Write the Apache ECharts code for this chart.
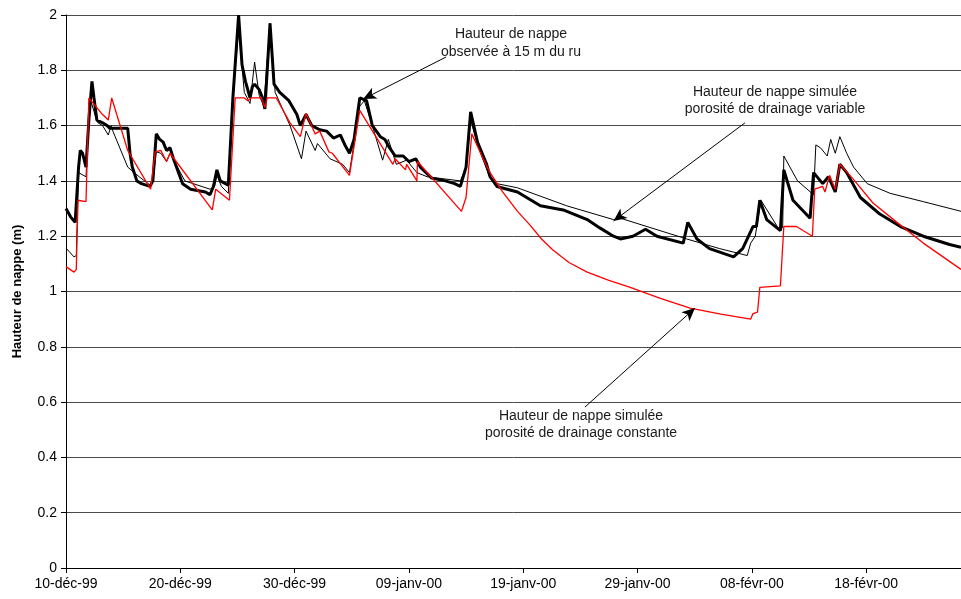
<!DOCTYPE html>
<html>
<head>
<meta charset="utf-8">
<script src="https://cdn.jsdelivr.net/npm/echarts@6/dist/echarts.min.js"></script>
<style>html,body{margin:0;padding:0;background:#fff}#c{width:961px;height:599px}</style>
</head>
<body>
<div id="c"></div>
<script>
// x = days since 10-déc-99
var xTickValues = [0, 10, 20, 30, 40, 50, 60, 70];
var xTickLabels = ['10-déc-99', '20-déc-99', '30-déc-99', '09-janv-00', '19-janv-00', '29-janv-00', '08-févr-00', '18-févr-00'];
var xMax = 78.3;

// Observed water table height (thick black)
var obsDays = [0,0.4,0.8,0.95,1.1,1.25,1.45,1.75,2.0,2.27,2.45,2.7,3.2,3.6,3.85,5.4,5.6,5.8,6.2,6.6,7.35,7.6,7.9,8.2,8.5,8.8,9.1,9.4,10.2,10.9,12.2,12.6,12.9,13.2,13.5,14.2,14.6,15.1,15.4,15.7,16.1,16.3,16.5,16.9,17.2,17.4,17.85,18.2,18.7,19.5,20.2,20.5,21.0,21.5,22.2,22.8,23.4,24.0,24.4,24.8,25.2,25.7,26.3,26.8,27.5,27.9,28.3,28.8,29.5,30.0,30.6,31.0,32.0,33.2,34.0,34.5,35.0,35.4,36.0,36.8,37.1,37.7,39.5,41.5,43.5,45.6,46.7,47.9,48.5,49.6,50.7,51.7,54.0,54.4,55.2,56.3,58.4,59.2,60.1,60.4,60.7,61.3,62.5,62.8,63.6,65.1,65.4,66.2,66.7,67.3,67.7,68.3,69.5,71.2,73.0,75.0,77.3,78.3];
var obsValues = [1.30,1.27,1.25,1.25,1.45,1.51,1.50,1.45,1.62,1.76,1.70,1.62,1.61,1.60,1.59,1.59,1.50,1.45,1.40,1.39,1.38,1.40,1.57,1.55,1.54,1.51,1.52,1.48,1.39,1.37,1.36,1.35,1.38,1.44,1.40,1.385,1.70,2.00,1.82,1.76,1.70,1.74,1.75,1.73,1.70,1.66,1.97,1.75,1.72,1.69,1.64,1.60,1.64,1.60,1.585,1.58,1.555,1.566,1.53,1.50,1.55,1.70,1.69,1.60,1.56,1.55,1.52,1.49,1.49,1.47,1.48,1.45,1.41,1.40,1.39,1.38,1.45,1.65,1.54,1.46,1.415,1.38,1.36,1.31,1.295,1.26,1.23,1.20,1.19,1.20,1.225,1.20,1.175,1.25,1.19,1.155,1.125,1.155,1.235,1.235,1.33,1.26,1.22,1.44,1.33,1.265,1.43,1.39,1.415,1.36,1.46,1.43,1.34,1.28,1.235,1.20,1.17,1.16];

// Simulated, variable drainage porosity (thin black)
var varDays = [0,0.7,0.9,1.1,1.75,2.1,2.6,2.8,3.2,3.7,3.95,4.1,5.4,6.4,7.35,7.6,7.9,8.3,8.8,9.1,10.4,12.6,13.0,13.2,13.6,14.2,14.6,15.1,15.6,16.1,16.5,16.9,17.3,17.85,18.3,19.6,20.6,21.0,21.8,22.0,23.1,24.2,24.8,25.7,26.1,26.8,27.7,28.2,28.9,29.8,30.7,31.6,34.5,35.0,35.4,36.0,37.0,37.7,39.5,43.8,47.9,48.5,54.3,57.2,59.6,59.9,60.3,60.8,62.3,62.7,62.8,64.0,65.4,65.6,66.0,66.6,66.9,67.3,67.7,68.3,68.9,70.1,72.1,75.0,78.3];
var varValues = [1.157,1.125,1.13,1.43,1.415,1.70,1.63,1.61,1.60,1.566,1.60,1.58,1.45,1.415,1.385,1.40,1.505,1.50,1.47,1.50,1.40,1.37,1.38,1.42,1.38,1.355,1.70,1.95,1.72,1.68,1.83,1.71,1.67,1.97,1.72,1.60,1.48,1.58,1.51,1.535,1.48,1.46,1.43,1.67,1.69,1.60,1.475,1.55,1.46,1.475,1.43,1.415,1.40,1.45,1.62,1.53,1.42,1.39,1.375,1.31,1.26,1.265,1.19,1.155,1.13,1.175,1.20,1.33,1.23,1.23,1.49,1.40,1.35,1.53,1.52,1.49,1.55,1.50,1.56,1.50,1.45,1.39,1.355,1.325,1.29];

// Simulated, constant drainage porosity (red)
var conDays = [0,0.7,0.9,1.05,1.75,2.0,3.2,3.7,4.0,5.4,7.4,7.8,8.3,8.8,9.1,12.8,13.1,14.3,14.8,15.6,15.9,16.2,17.1,17.4,17.6,18.4,19.6,20.5,21.0,21.8,22.2,23.0,23.3,24.8,25.7,28.6,28.8,29.7,29.8,30.7,30.75,34.6,35.0,35.5,36.5,37.1,38.2,39.5,40.6,41.6,42.6,44.0,45.6,47.5,49.3,52.0,54.6,57.3,59.9,60.1,60.5,60.7,62.5,62.8,63.9,65.3,65.5,66.2,66.4,66.8,67.3,67.7,68.8,70.6,72.7,75.0,78.3];
var conValues = [1.09,1.07,1.08,1.33,1.325,1.70,1.64,1.62,1.70,1.51,1.37,1.505,1.51,1.47,1.50,1.295,1.37,1.33,1.70,1.70,1.69,1.70,1.70,1.665,1.70,1.70,1.61,1.56,1.645,1.57,1.58,1.505,1.50,1.42,1.655,1.46,1.48,1.44,1.46,1.40,1.47,1.29,1.34,1.57,1.48,1.43,1.36,1.29,1.24,1.19,1.15,1.105,1.07,1.04,1.016,0.975,0.94,0.918,0.90,0.92,0.925,1.015,1.02,1.235,1.235,1.20,1.37,1.38,1.36,1.42,1.37,1.46,1.41,1.32,1.25,1.175,1.08];

// Annotation arrows (data space: [day, value] from -> to)
var arrowObs = [[33.25, 1.848], [26.0, 1.696]];
var arrowVar = [[59.4, 1.61], [47.9, 1.255]];
var arrowCon = [[45.4, 0.582], [55.03, 0.94]];

function zip(a, b) { return a.map(function (d, i) { return [d, b[i]]; }); }
function arrow(p) {
  return [{ coord: p[0], symbol: 'none' }, { coord: p[1], symbol: 'arrow' }];
}

var FONT = '"Liberation Sans", Arial, sans-serif';
var chart = echarts.init(document.getElementById('c'), null, { renderer: 'canvas' });
chart.setOption({
  animation: false,
  backgroundColor: '#fff',
  grid: { left: 66, right: 0, top: 15, bottom: 31, containLabel: false },
  xAxis: {
    type: 'value', min: 0, max: xMax, interval: 10,
    axisLine: { show: true, onZero: false, lineStyle: { color: '#000', width: 1 } },
    axisTick: { show: true, length: 5, lineStyle: { color: '#000' }, customValues: xTickValues },
    axisLabel: {
      customValues: xTickValues, color: '#000', fontFamily: FONT, fontSize: 14, margin: 9,
      formatter: function (v) { var i = xTickValues.indexOf(Math.round(v)); return i >= 0 ? xTickLabels[i] : ''; }
    },
    splitLine: { show: false }
  },
  yAxis: {
    type: 'value', min: 0, max: 2, interval: 0.2,
    name: 'Hauteur de nappe (m)', nameLocation: 'middle', nameGap: 42,
    nameTextStyle: { fontFamily: FONT, fontSize: 13, fontWeight: 'bold', color: '#000' },
    axisLine: { show: true, lineStyle: { color: '#000', width: 1 } },
    axisTick: { show: true, length: 5, lineStyle: { color: '#000' } },
    axisLabel: { color: '#000', fontFamily: FONT, fontSize: 14, margin: 9,
      formatter: function (v) { return String(Math.round(v * 10) / 10); } },
    splitLine: { show: true, lineStyle: { color: '#4a4a4a', width: 1 } }
  },
  series: [
    {
      name: 'observée', type: 'line', data: zip(obsDays, obsValues), showSymbol: false, symbol: 'none',
      lineStyle: { color: '#000', width: 3 }, z: 2
    },
    {
      name: 'variable', type: 'line', data: zip(varDays, varValues), showSymbol: false, symbol: 'none',
      lineStyle: { color: '#000', width: 1 }, z: 3,
      markLine: {
        silent: true, symbolSize: [9, 13], animation: false,
        lineStyle: { color: '#000', width: 1, type: 'solid' }, label: { show: false },
        data: [arrow(arrowObs), arrow(arrowVar), arrow(arrowCon)]
      }
    },
    {
      name: 'constante', type: 'line', data: zip(conDays, conValues), showSymbol: false, symbol: 'none',
      lineStyle: { color: '#ff0000', width: 1.3 }, z: 4
    }
  ],
  graphic: [
    { type: 'text', x: 511, y: 25, z: 10, style: { text: 'Hauteur de nappe\nobservée à 15 m du ru', textAlign: 'center', textVerticalAlign: 'top', font: '14px ' + FONT, fill: '#1a1a1a', lineHeight: 18 } },
    { type: 'text', x: 775, y: 84, z: 10, style: { text: 'Hauteur de nappe simulée\nporosité de drainage variable', textAlign: 'center', textVerticalAlign: 'top', font: '14px ' + FONT, fill: '#1a1a1a', lineHeight: 17 } },
    { type: 'text', x: 581, y: 408, z: 10, style: { text: 'Hauteur de nappe simulée\nporosité de drainage constante', textAlign: 'center', textVerticalAlign: 'top', font: '14px ' + FONT, fill: '#1a1a1a', lineHeight: 17 } }
  ]
});
</script>
</body>
</html>
